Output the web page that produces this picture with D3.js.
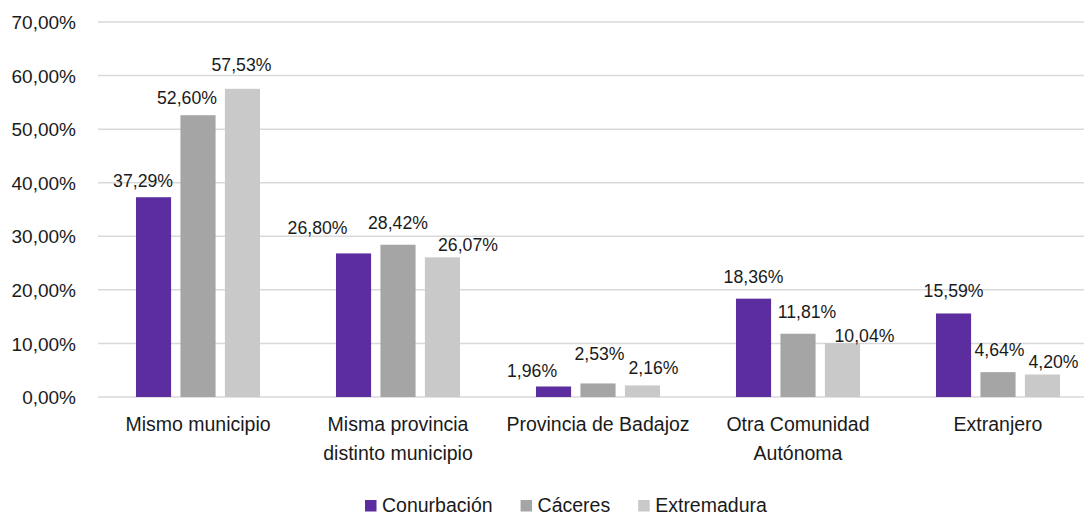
<!DOCTYPE html>
<html>
<head>
<meta charset="utf-8">
<script src="https://cdn.jsdelivr.net/npm/d3@7/dist/d3.min.js"></script>
<style>
  html, body { margin: 0; padding: 0; background: #fff; }
  svg { display: block; font-family: "Liberation Sans", Arial, sans-serif; }
</style>
</head>
<body>
<svg id="chart" width="1084" height="515"></svg>
<script>
// Categories (each entry is a list of label lines)
const categories = [
  ["Mismo municipio"],
  ["Misma provincia", "distinto municipio"],
  ["Provincia de Badajoz"],
  ["Otra Comunidad", "Autónoma"],
  ["Extranjero"]
];
const seriesNames = ["Conurbación", "Cáceres", "Extremadura"];

// Percentages per series, in category order
const conurbacion = [37.29, 26.80, 1.96, 18.36, 15.59];
const caceres     = [52.60, 28.42, 2.53, 11.81, 4.64];
const extremadura = [57.53, 26.07, 2.16, 10.04, 4.20];

const yTicks = [0, 10, 20, 30, 40, 50, 60, 70];

// Colours per series
const colors = ["#5c2d9e", "#a5a5a5", "#c9c9c9"];

// Hand-placed label nudges [dx, gap above bar top] so labels don't collide
const labelNudge = [
  [[-10.5, 10], [-11, 11.5], [-1, 18]],
  [[-36, 19.5], [0, 16], [25.5, 6.5]],
  [[-21.5, 9.5], [1.5, 23.5], [11, 11]],
  [[0, 16], [9, 15.5], [22, 1.5]],
  [[0, 16.5], [1.5, 16.5], [11, 6.5]]
];

const values = [conurbacion, caceres, extremadura];
const catKeys = categories.map(c => c.join(" "));

const svg = d3.select("#chart");
const fmt = v => v.toFixed(2).replace(".", ",") + "%";

const y = d3.scaleLinear().domain([0, 70]).range([397, 22]);
const x0 = d3.scaleBand().domain(catKeys).range([98, 1098]).paddingInner(0).paddingOuter(0);
const x1 = d3.scaleBand().domain(seriesNames).range([0, x0.bandwidth()])
  .paddingInner(0.21).paddingOuter(0.854);

// Gridlines
svg.append("g")
  .selectAll("line")
  .data(yTicks)
  .join("line")
  .attr("x1", 98).attr("x2", 1098)
  .attr("y1", d => y(d)).attr("y2", d => y(d))
  .attr("stroke", "#d9d9d9").attr("stroke-width", 1.5);

// Y axis labels
const yAxis = d3.axisLeft(y).tickValues(yTicks).tickSize(0).tickPadding(0)
  .tickFormat(d => fmt(d));
svg.append("g")
  .attr("transform", "translate(76,0)")
  .call(yAxis)
  .call(g => g.select(".domain").remove())
  .call(g => g.selectAll("text")
    .attr("font-size", 19)
    .attr("fill", "#1a1a1a")
    .attr("font-family", "'Liberation Sans', Arial, sans-serif")
    .attr("dy", "0.35em"));

// Bars
const groups = svg.append("g")
  .selectAll("g")
  .data(catKeys)
  .join("g")
  .attr("transform", d => `translate(${x0(d)},0)`);

const cells = (d, i) => seriesNames.map((s, j) => ({ s, j, i, v: values[j][i] }));

groups.selectAll("rect")
  .data(cells)
  .join("rect")
  .attr("x", d => x1(d.s))
  .attr("width", x1.bandwidth())
  .attr("y", d => y(d.v))
  .attr("height", d => y(0) - y(d.v))
  .attr("fill", d => colors[d.j]);

// Value labels (slightly narrowed glyphs)
groups.selectAll("text.val")
  .data(cells)
  .join("text")
  .attr("class", "val")
  .attr("transform", d => {
    const tx = x1(d.s) + x1.bandwidth() / 2 + labelNudge[d.i][d.j][0];
    const ty = y(d.v) - labelNudge[d.i][d.j][1];
    return `translate(${tx},${ty}) scale(0.94,1)`;
  })
  .attr("text-anchor", "middle")
  .attr("font-size", 18.8)
  .attr("fill", "#1a1a1a")
  .text(d => fmt(d.v));

// Category labels
const catLabels = svg.append("g")
  .selectAll("text")
  .data(categories)
  .join("text")
  .attr("x", (d, i) => x0(catKeys[i]) + x0.bandwidth() / 2)
  .attr("y", 431)
  .attr("text-anchor", "middle")
  .attr("font-size", 19.5)
  .attr("fill", "#1a1a1a");
catLabels.selectAll("tspan")
  .data(d => d)
  .join("tspan")
  .attr("x", function () { return d3.select(this.parentNode).attr("x"); })
  .attr("dy", (d, k) => k === 0 ? 0 : 28.5)
  .text(d => d);

// Legend
const legend = svg.append("g");
let lx = 365;
seriesNames.forEach((name, j) => {
  legend.append("rect")
    .attr("x", lx).attr("y", 500)
    .attr("width", 11.5).attr("height", 11.5)
    .attr("fill", colors[j]);
  const t = legend.append("text")
    .attr("x", lx + 17).attr("y", 512)
    .attr("font-size", 19.5)
    .attr("fill", "#1a1a1a")
    .text(name);
  lx += 17 + t.node().getComputedTextLength() + 28;
});
</script>
</body>
</html>
